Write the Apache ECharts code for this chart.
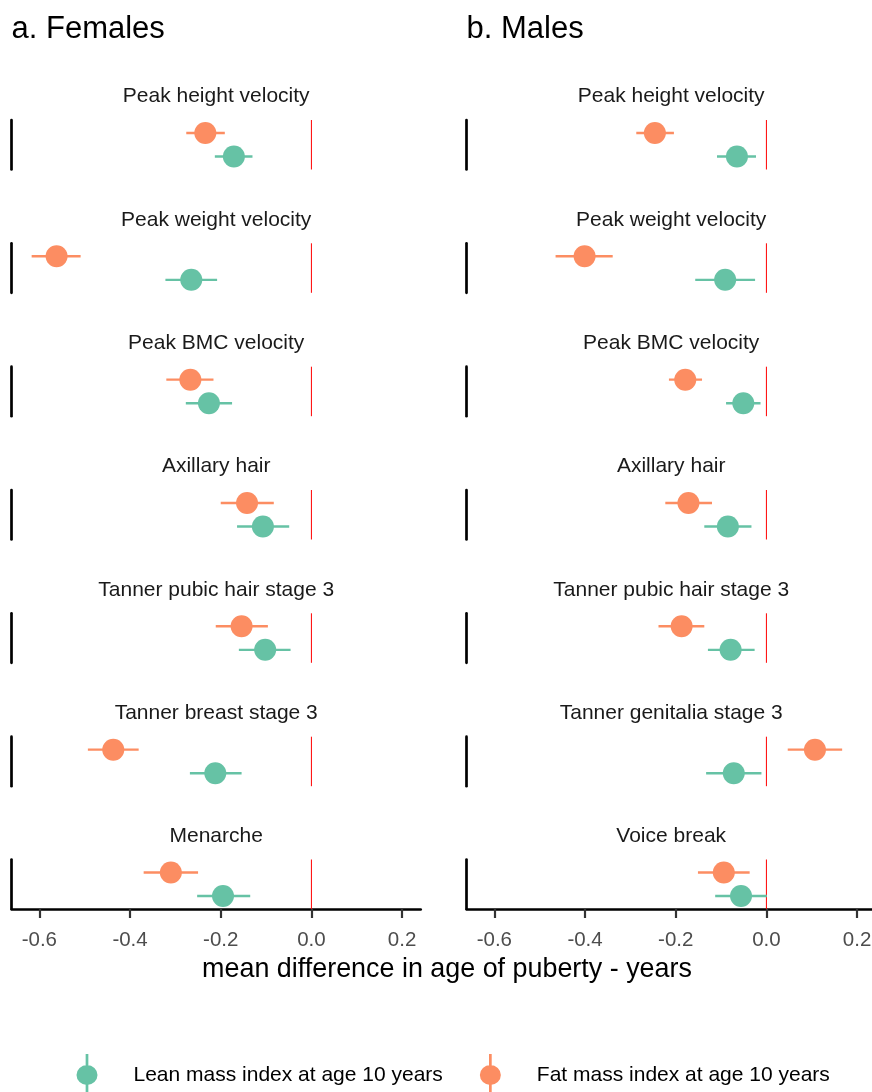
<!DOCTYPE html>
<html>
<head>
<meta charset="utf-8">
<title>puberty timing</title>
<script src="https://cdn.jsdelivr.net/npm/echarts@6.0.0/dist/echarts.min.js"></script>
<style>
  html, body { margin: 0; padding: 0; background: #fff; overflow: hidden; }
  #main { width: 880px; height: 1092px; }
</style>
</head>
<body>
<div id="main"></div>
<script>
// 数据
const outcomesF = ['Peak height velocity', 'Peak weight velocity', 'Peak BMC velocity', 'Axillary hair', 'Tanner pubic hair stage 3', 'Tanner breast stage 3', 'Menarche'];
const outcomesM = ['Peak height velocity', 'Peak weight velocity', 'Peak BMC velocity', 'Axillary hair', 'Tanner pubic hair stage 3', 'Tanner genitalia stage 3', 'Voice break'];
const seriesNames = ['Lean mass index at age 10 years', 'Fat mass index at age 10 years'];
const xTicks = [-0.6, -0.4, -0.2, 0, 0.2];
const refLine = [0];

const femLeanMean = [-0.171, -0.265, -0.226, -0.107, -0.102, -0.212, -0.195];
const femLeanLow = [-0.213, -0.322, -0.277, -0.164, -0.160, -0.268, -0.252];
const femLeanHigh = [-0.130, -0.208, -0.175, -0.049, -0.046, -0.154, -0.135];
const femFatMean = [-0.234, -0.562, -0.267, -0.142, -0.154, -0.437, -0.310];
const femFatLow = [-0.276, -0.617, -0.320, -0.200, -0.211, -0.493, -0.370];
const femFatHigh = [-0.191, -0.509, -0.216, -0.083, -0.096, -0.381, -0.250];

const maleLeanMean = [-0.065, -0.091, -0.051, -0.085, -0.079, -0.072, -0.056];
const maleLeanLow = [-0.109, -0.157, -0.089, -0.137, -0.129, -0.133, -0.113];
const maleLeanHigh = [-0.023, -0.025, -0.013, -0.033, -0.026, -0.011, 0.001];
const maleFatMean = [-0.246, -0.401, -0.179, -0.172, -0.187, 0.107, -0.094];
const maleFatLow = [-0.287, -0.465, -0.215, -0.223, -0.238, 0.047, -0.151];
const maleFatHigh = [-0.204, -0.339, -0.142, -0.120, -0.137, 0.167, -0.037];

(function () {
  let mychart = echarts.init(document.getElementById('main'))
  const font = "'Liberation Sans', Arial, Helvetica, sans-serif"
  const green = '#66c2a5'
  const orange = '#fc8d62'
  const panelLeft = [11.7, 466.7]
  const panelWidth = 409
  const panelTop = [120, 243.3, 366.7, 490, 613.3, 736.7, 859.5]
  const panelHeight = 49.5
  const yMin = 0.45, yMax = 2.55

  const panels = [
    { names: outcomesF, lean: [femLeanMean, femLeanLow, femLeanHigh], fat: [femFatMean, femFatLow, femFatHigh] },
    { names: outcomesM, lean: [maleLeanMean, maleLeanLow, maleLeanHigh], fat: [maleFatMean, maleFatLow, maleFatHigh] }
  ]

  // 误差线
  function errRender(params, api) {
    let a = api.coord([api.value(0), api.value(2)])
    let b = api.coord([api.value(1), api.value(2)])
    return {
      type: 'line',
      shape: { x1: a[0], y1: a[1], x2: b[0], y2: b[1] },
      style: { stroke: api.visual('color'), lineWidth: 2.4 }
    }
  }

  // 0 处的红色竖线
  function zeroRender(params, api) {
    let a = api.coord([api.value(0), yMax])
    let b = api.coord([api.value(0), yMin])
    return {
      type: 'line',
      shape: { x1: a[0], y1: a[1], x2: b[0], y2: b[1] },
      style: { stroke: '#ff0000', lineWidth: 1 }
    }
  }

  let grid = [], xAxis = [], yAxis = [], series = [], texts = []
  panels.forEach(function (p, pi) {
    for (let f = 0; f < 7; f++) {
      let idx = grid.length
      let bottom = f === 6
      grid.push({ left: panelLeft[pi], top: panelTop[f], width: panelWidth, height: panelHeight })
      xAxis.push({
        type: 'value', gridIndex: idx, min: -0.661, max: 0.241,
        show: true,
        splitLine: { show: false },
        axisLine: { show: bottom, onZero: false, lineStyle: { color: '#000', width: 2.7 } },
        axisTick: { show: bottom, length: 9, customValues: xTicks, lineStyle: { color: '#333', width: 2.2 } },
        axisLabel: {
          show: bottom, customValues: xTicks, margin: 21,
          color: '#4d4d4d', fontSize: 20.5, fontFamily: font,
          formatter: function (v) { return v.toFixed(1) }
        }
      })
      yAxis.push({
        type: 'value', gridIndex: idx, min: yMin, max: yMax,
        splitLine: { show: false },
        axisLine: { show: true, onZero: false, lineStyle: { color: '#000', width: 2.7 } },
        axisTick: { show: false },
        axisLabel: { show: false }
      })
      series.push({
        type: 'custom', name: 'zero', xAxisIndex: idx, yAxisIndex: idx,
        renderItem: zeroRender, z: 1, silent: true,
        encode: { x: 0 },
        data: refLine.map(function (v) { return [v] })
      })
      let groups = [[p.lean, green, 1, seriesNames[0]], [p.fat, orange, 2, seriesNames[1]]]
      groups.forEach(function (g) {
        series.push({
          type: 'custom', name: g[3] + ' CI', xAxisIndex: idx, yAxisIndex: idx,
          renderItem: errRender, z: 2, silent: true,
          itemStyle: { color: g[1] },
          encode: { x: [0, 1], y: 2 },
          data: [[g[0][1][f], g[0][2][f], g[2]]]
        })
      })
      groups.forEach(function (g) {
        series.push({
          type: 'scatter', name: g[3], xAxisIndex: idx, yAxisIndex: idx,
          symbolSize: 22, z: 3, silent: true,
          itemStyle: { color: g[1], opacity: 1 },
          data: [[g[0][0][f], g[2]]]
        })
      })
      texts.push({
        type: 'text', x: panelLeft[pi] + panelWidth / 2, y: panelTop[f] - 23.5,
        style: { text: p.names[f], fill: '#1a1a1a', font: '21px ' + font, align: 'center', verticalAlign: 'middle' }
      })
    }
  })

  texts.push({ type: 'text', x: 11.5, y: 29, style: { text: 'a. Females', fill: '#000', font: '31px ' + font, verticalAlign: 'middle' } })
  texts.push({ type: 'text', x: 466.5, y: 29, style: { text: 'b. Males', fill: '#000', font: '31px ' + font, verticalAlign: 'middle' } })
  texts.push({
    type: 'text', x: 447, y: 969.5,
    style: { text: 'mean difference in age of puberty - years', fill: '#000', font: '26.9px ' + font, align: 'center', verticalAlign: 'middle' }
  })

  let option = {
    backgroundColor: '#fff',
    animation: false,
    grid: grid,
    xAxis: xAxis,
    yAxis: yAxis,
    legend: {
      data: seriesNames,
      left: 76.5, top: 1054, padding: 0,
      itemWidth: 21, itemHeight: 42, itemGap: 37,
      icon: 'path://M9.15,0 L11.85,0 L11.85,42 L9.15,42 Z M10.5,11 A10.5,10 0 1,1 10.5,31 A10.5,10 0 1,1 10.5,11 Z',
      selectedMode: false,
      textStyle: { color: '#000', fontSize: 21, fontFamily: font, padding: [3, 0, 0, 31] }
    },
    graphic: texts,
    series: series
  }
  mychart.setOption(option)
  window.addEventListener('resize', function () {
    mychart.resize()
  })
})();
</script>
</body>
</html>
